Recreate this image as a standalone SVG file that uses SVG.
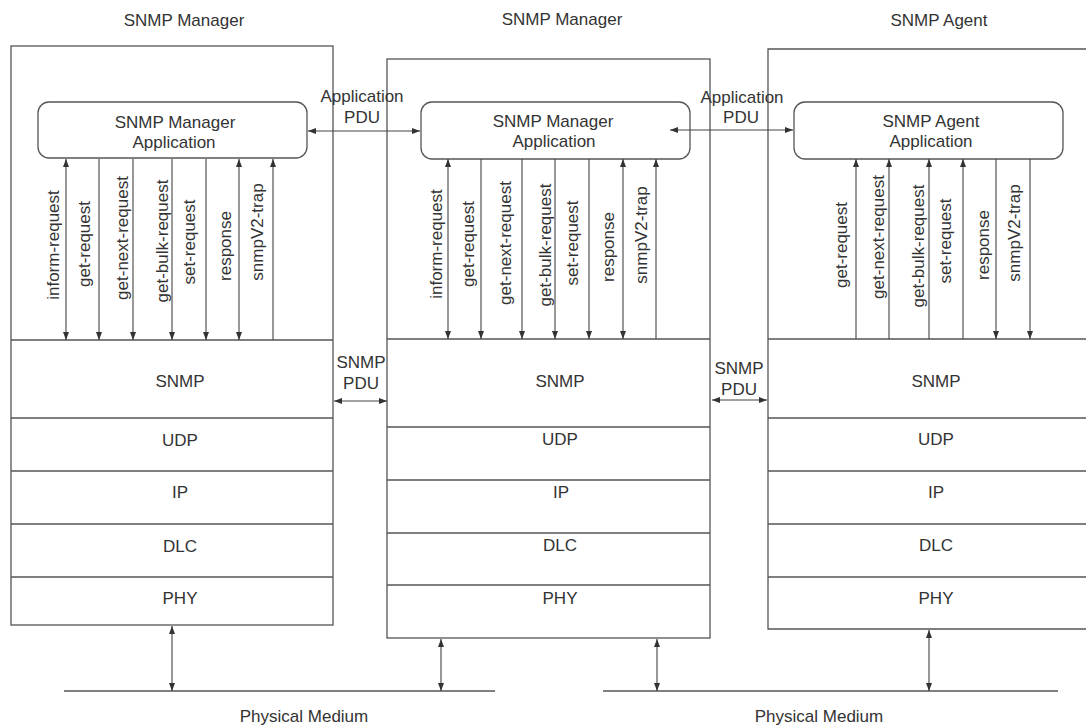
<svg xmlns="http://www.w3.org/2000/svg" width="1086" height="727" viewBox="0 0 1086 727">
<style>
text{font-family:"Liberation Sans",Arial,sans-serif;font-size:17px;fill:#333}
.m{text-anchor:middle}
.box{fill:none;stroke:#555;stroke-width:1.3}
.ln{stroke:#555;stroke-width:1.3;fill:none}
.app{fill:#fff;stroke:#555;stroke-width:1.3}
.c{stroke:#444;stroke-width:1.1;fill:none}
</style>
<defs>
<marker id="ah" viewBox="0 0 8 6" refX="8" refY="3" markerWidth="8" markerHeight="6" markerUnits="userSpaceOnUse" orient="auto-start-reverse">
<path d="M0,0 L8,3 L0,6 z" fill="#333"/>
</marker>
</defs>
<rect width="1086" height="727" fill="#fff"/>

<g id="left-manager">
<text class="m" x="184" y="26">SNMP Manager</text>
<rect class="box" x="11" y="46" width="322" height="579"/>
<path class="ln" d="M11 340H333M11 418H333M11 471H333M11 524H333M11 577H333"/>
<text class="m" x="180" y="387">SNMP</text>
<text class="m" x="180" y="446">UDP</text>
<text class="m" x="180" y="498">IP</text>
<text class="m" x="180" y="552">DLC</text>
<text class="m" x="180" y="604">PHY</text>
</g>
<g id="left-app">
<rect class="app" x="38" y="102" width="269" height="56" rx="11"/>
<text class="m" x="175" y="128">SNMP Manager</text>
<text class="m" x="174" y="148">Application</text>
</g>

<g id="middle-manager">
<text class="m" x="562" y="25">SNMP Manager</text>
<rect class="box" x="387" y="59" width="323" height="579"/>
<path class="ln" d="M387 339H710M387 427H710M387 480H710M387 533H710M387 585H710"/>
<text class="m" x="560" y="387">SNMP</text>
<text class="m" x="560" y="445">UDP</text>
<text class="m" x="561" y="498">IP</text>
<text class="m" x="560" y="551">DLC</text>
<text class="m" x="560" y="604">PHY</text>
</g>
<g id="middle-app">
<rect class="app" x="421" y="102" width="269" height="57" rx="11"/>
<text class="m" x="553" y="127">SNMP Manager</text>
<text class="m" x="554" y="147">Application</text>
</g>

<g id="right-agent">
<text class="m" x="939" y="26">SNMP Agent</text>
<path class="box" d="M1086 49H768V629H1086"/>
<path class="ln" d="M768 339H1086M768 418H1086M768 471H1086M768 524H1086M768 577H1086"/>
<text class="m" x="936" y="387">SNMP</text>
<text class="m" x="936" y="445">UDP</text>
<text class="m" x="936" y="498">IP</text>
<text class="m" x="936" y="551">DLC</text>
<text class="m" x="936" y="604">PHY</text>
</g>
<g id="right-app">
<rect class="app" x="794" y="102" width="269" height="57" rx="11"/>
<text class="m" x="931" y="127">SNMP Agent</text>
<text class="m" x="931" y="147">Application</text>
</g>

<g id="media">
<path class="ln" d="M64 691H495M603 691H1058"/>
<text class="m" x="304" y="722">Physical Medium</text>
<text class="m" x="819" y="722">Physical Medium</text>
</g>

<g id="connectors">
<!-- left box messages -->
<path class="c" d="M66 159V340" marker-start="url(#ah)" marker-end="url(#ah)"/>
<path class="c" d="M99 159V340" marker-end="url(#ah)"/>
<path class="c" d="M133 159V340" marker-end="url(#ah)"/>
<path class="c" d="M172 159V340" marker-end="url(#ah)"/>
<path class="c" d="M206 159V340" marker-end="url(#ah)"/>
<path class="c" d="M239 159V340" marker-start="url(#ah)" marker-end="url(#ah)"/>
<path class="c" d="M273 340V159" marker-end="url(#ah)"/>
<!-- middle box messages -->
<path class="c" d="M448 159V339" marker-start="url(#ah)" marker-end="url(#ah)"/>
<path class="c" d="M481 159V339" marker-end="url(#ah)"/>
<path class="c" d="M522 159V339" marker-end="url(#ah)"/>
<path class="c" d="M555 159V339" marker-end="url(#ah)"/>
<path class="c" d="M589 159V339" marker-end="url(#ah)"/>
<path class="c" d="M623 159V339" marker-start="url(#ah)" marker-end="url(#ah)"/>
<path class="c" d="M656 339V159" marker-end="url(#ah)"/>
<!-- right box messages -->
<path class="c" d="M856 339V159" marker-end="url(#ah)"/>
<path class="c" d="M889 339V159" marker-end="url(#ah)"/>
<path class="c" d="M929 339V159" marker-end="url(#ah)"/>
<path class="c" d="M963 339V159" marker-end="url(#ah)"/>
<path class="c" d="M996 159V339" marker-end="url(#ah)"/>
<path class="c" d="M1030 159V339" marker-end="url(#ah)"/>
<!-- peer PDUs -->
<path class="c" d="M308 131H420" marker-start="url(#ah)" marker-end="url(#ah)"/>
<path class="c" d="M670 130H793" marker-start="url(#ah)" marker-end="url(#ah)"/>
<path class="c" d="M334 401H387" marker-start="url(#ah)" marker-end="url(#ah)"/>
<path class="c" d="M712 400H767" marker-start="url(#ah)" marker-end="url(#ah)"/>
<!-- physical links -->
<path class="c" d="M172 626V691" marker-start="url(#ah)" marker-end="url(#ah)"/>
<path class="c" d="M441 639V691" marker-start="url(#ah)" marker-end="url(#ah)"/>
<path class="c" d="M657 639V691" marker-start="url(#ah)" marker-end="url(#ah)"/>
<path class="c" d="M929 630V691" marker-start="url(#ah)" marker-end="url(#ah)"/>
</g>

<g id="labels">
<text class="m" x="362" y="102">Application</text>
<text class="m" x="362" y="123">PDU</text>
<text class="m" x="742" y="103">Application</text>
<text class="m" x="741" y="123">PDU</text>
<text class="m" x="361" y="368">SNMP</text>
<text class="m" x="361" y="389">PDU</text>
<text class="m" x="739" y="374">SNMP</text>
<text class="m" x="739" y="395">PDU</text>

<text class="m" transform="translate(59,245) rotate(-90)">inform-request</text>
<text class="m" transform="translate(90,244) rotate(-90)">get-request</text>
<text class="m" transform="translate(128,238) rotate(-90)">get-next-request</text>
<text class="m" transform="translate(168,241) rotate(-90)">get-bulk-request</text>
<text class="m" transform="translate(195,242) rotate(-90)">set-request</text>
<text class="m" transform="translate(231,246) rotate(-90)">response</text>
<text class="m" transform="translate(263,232) rotate(-90)">snmpV2-trap</text>

<text class="m" transform="translate(442,244) rotate(-90)">inform-request</text>
<text class="m" transform="translate(474,244) rotate(-90)">get-request</text>
<text class="m" transform="translate(511,243) rotate(-90)">get-next-request</text>
<text class="m" transform="translate(551,245) rotate(-90)">get-bulk-request</text>
<text class="m" transform="translate(578,243) rotate(-90)">set-request</text>
<text class="m" transform="translate(614,247) rotate(-90)">response</text>
<text class="m" transform="translate(647,235) rotate(-90)">snmpV2-trap</text>

<text class="m" transform="translate(847,245) rotate(-90)">get-request</text>
<text class="m" transform="translate(884,237) rotate(-90)">get-next-request</text>
<text class="m" transform="translate(924,246) rotate(-90)">get-bulk-request</text>
<text class="m" transform="translate(951,241) rotate(-90)">set-request</text>
<text class="m" transform="translate(989,245) rotate(-90)">response</text>
<text class="m" transform="translate(1020,233) rotate(-90)">snmpV2-trap</text>
</g>
</svg>
